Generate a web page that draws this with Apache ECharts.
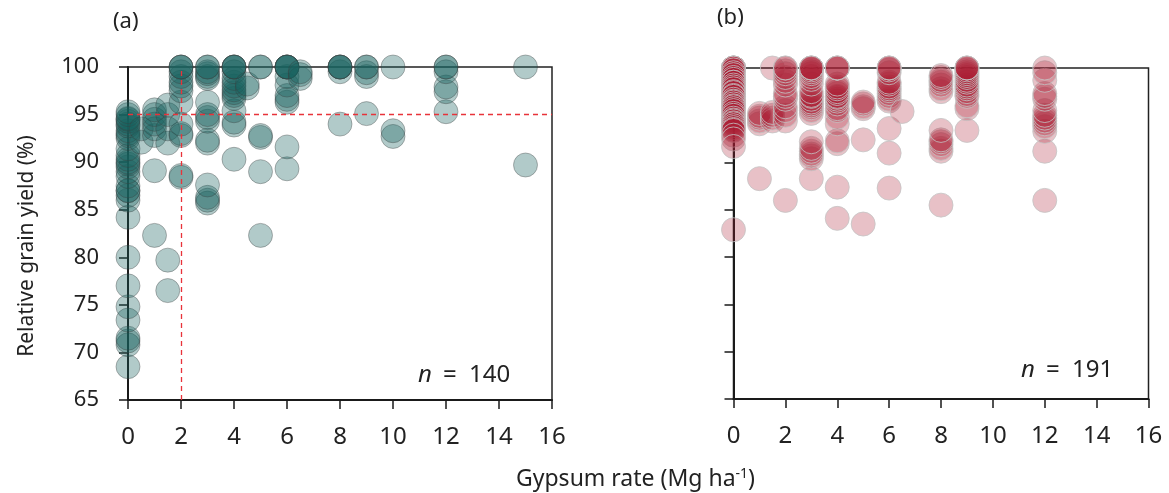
<!DOCTYPE html>
<html><head><meta charset="utf-8">
<script src="https://cdn.jsdelivr.net/npm/echarts@6/dist/echarts.min.js"></script>
<style>html,body{margin:0;padding:0;background:#fff}#c{width:1169px;height:493px}</style>
</head><body><div id="c"></div>
<script>
// Panel (a): gypsum rate (Mg/ha) and relative grain yield (%)
const aRate = [
 0,0,0,0,0,0,0,0,0,0,0,0,0,0,0,0,0,0,0,0,0,0,0,0,0,0,0,0,0,0,0,0,0,
 0.5,0.5,
 1,1,1,1,1,1,1,1,
 1.5,1.5,1.5,1.5,1.5,1.5,
 2,2,2,2,2,2,2,2,2,2,2,2,2,2,
 3,3,3,3,3,3,3,3,3,3,3,3,3,3,3,3,
 4,4,4,4,4,4,4,4,4,4,4,4,4,4,4,4,
 4.5,4.5,
 5,5,5,5,5,5,
 6,6,6,6,6,6,6,6,6,6,6,6,
 6.5,6.5,6.5,
 8,8,8,8,8,8,
 9,9,9,9,9,
 10,10,10,
 12,12,12,12,12,12,
 15,15
];
const aYield = [
 68.5,70.8,71.2,71.5,73.4,74.8,77.0,80.0,84.2,86.0,86.5,87.0,87.0,87.5,88.5,89.0,89.5,89.8,90.0,90.3,90.7,91.4,92.5,92.8,93.0,93.3,93.8,94.0,94.3,94.5,94.6,95.0,95.3,
 92.1,93.5,
 82.3,89.1,92.8,93.5,94.0,94.5,95.0,95.5,
 76.5,79.7,92.0,93.5,95.0,96.0,
 88.4,88.6,92.8,93.0,94.0,96.3,97.5,98.0,98.4,99.0,99.5,100,100,100,
 85.7,86.0,86.3,87.6,92.0,92.3,94.3,94.7,95.0,96.3,98.8,99.0,99.3,99.5,100,100,
 90.3,93.9,94.2,95.4,96.7,97.0,97.3,97.6,98.0,98.4,98.8,99.5,100,100,100,100,
 97.8,98.2,
 82.3,89.0,92.6,92.8,100,100,
 89.3,91.6,96.3,96.6,97.0,98.1,99.0,100,100,100,100,100,
 98.8,99.2,99.5,
 94.0,99.5,100,100,100,100,
 95.1,99.0,99.4,100,100,
 92.7,93.3,100,
 95.3,97.4,97.9,99.5,100,100,
 89.7,100
];
// Panel (b)
const bRate = [
 0,0,0,0,0,0,0,0,0,0,0,0,0,0,0,0,0,0,0,0,0,0,0,0,0,0,0,0,0,0,0,0,0,0,0,0,0,0,0,0,0,0,0,0,
 1,1,1,1,1,1,
 1.5,1.5,1.5,1.5,1.5,
 2,2,2,2,2,2,2,2,2,2,2,2,2,2,2,
 3,3,3,3,3,3,3,3,3,3,3,3,3,3,3,3,3,3,3,3,3,3,3,3,3,3,3,
 4,4,4,4,4,4,4,4,4,4,4,4,4,4,4,4,4,4,4,4,4,4,
 5,5,5,5,5,5,
 6,6,6,6,6,6,6,6,6,6,6,6,6,6,6,6,6,
 6.5,
 8,8,8,8,8,8,8,8,8,8,8,8,8,8,
 9,9,9,9,9,9,9,9,9,9,9,9,9,9,9,9,9,9,9,
 12,12,12,12,12,12,12,12,12,12,12,12,12,12,12
];
const bYield = [
 100,100,100,100,100,100,100,99.8,99.5,99.3,99.0,98.8,98.5,98.5,98.2,98.0,97.8,97.5,97.4,97.1,97.0,96.7,96.5,96.4,96.2,96.0,95.9,95.7,95.5,95.2,95.0,94.7,94.5,94.4,94.2,94.1,93.9,93.7,93.5,93.4,92.9,92.5,91.7,82.9,
 88.3,94.1,94.4,94.7,94.9,95.2,
 94.4,94.7,95.0,95.3,100,
 86.0,94.4,95.0,95.5,95.9,96.7,97.0,97.3,98.2,98.6,99.0,99.4,99.7,100,100,
 88.3,90.4,90.7,90.9,91.2,91.5,92.2,95.2,95.5,95.8,96.0,96.2,96.4,96.7,97.0,97.1,97.5,98.3,98.8,99.1,99.4,99.6,99.8,100,100,100,100,
 84.1,87.4,92.0,92.3,94.1,94.8,95.5,95.7,96.2,96.5,96.7,96.9,97.0,97.3,97.5,97.8,98.0,98.3,100,100,100,100,
 83.5,92.4,95.7,95.9,96.2,96.4,
 87.3,91.0,93.6,96.5,96.7,97.0,97.3,97.6,97.8,98.0,98.3,98.5,99.5,99.8,100,100,100,
 95.4,
 85.5,91.2,91.5,91.9,92.2,92.4,93.4,97.5,97.8,98.2,98.5,98.7,99.0,99.2,
 93.4,95.7,96.0,97.0,97.2,97.5,97.8,98.0,98.2,98.5,98.7,99.0,99.2,99.4,99.6,99.8,100,100,100,
 86.0,91.2,93.3,93.8,94.1,94.4,94.7,95.0,95.5,96.7,97.0,97.3,98.7,99.5,100
];
const xTicks = {min: 0, max: 16, interval: 2};
const yTicks = {min: 65, max: 100, interval: 5};

const FONT = 'Noto Sans';
const TXT = '#222';
function pts(xs, ys){ return xs.map((x,i)=>[x, ys[i]]); }

function xAxis(gi){
  return {type:'value', gridIndex:gi, min:xTicks.min, max:xTicks.max, interval:xTicks.interval,
    axisLine:{show:true, onZero:false, lineStyle:{color:'#1a1a1a', width:2}},
    axisTick:{show:true, inside:false, length:9, lineStyle:{color:'#1a1a1a', width:1.5}},
    axisLabel:{show:true, margin:25, fontFamily:FONT, fontSize:24, color:TXT},
    splitLine:{show:false}};
}
function yAxis(gi, labels){
  return {type:'value', gridIndex:gi, min:yTicks.min, max:yTicks.max, interval:yTicks.interval,
    axisLine:{show:true, onZero:false, lineStyle:{color:'#1a1a1a', width:2}},
    axisTick:{show:true, inside:false, length:9, lineStyle:{color:'#1a1a1a', width:1.5}},
    axisLabel:{show:labels, margin:29, fontFamily:FONT, fontSize:22, color:TXT},
    splitLine:{show:false}};
}
function nLabel(x, y, val){
  return [
    {type:'text', left:x, top:y, style:{text:'n', font:'italic 24px "Noto Sans"', fill:TXT}},
    {type:'text', left:x+25, top:y, style:{text:'=', font:'24px "Noto Sans"', fill:TXT}},
    {type:'text', left:x+51, top:y, style:{text:val, font:'24px "Noto Sans"', fill:TXT}}
  ];
}

const chart = echarts.init(document.getElementById('c'), null, {renderer:'canvas'});
chart.setOption({
  animation:false,
  backgroundColor:'#fff',
  grid:[
    {left:128, right:617, top:67, bottom:93, show:true, borderColor:'#222', borderWidth:1.5, backgroundColor:'transparent'},
    {left:733.5, right:20.5, top:68, bottom:94, show:true, borderColor:'#222', borderWidth:1.5, backgroundColor:'transparent'}
  ],
  xAxis:[xAxis(0), xAxis(1)],
  yAxis:[yAxis(0,true), yAxis(1,false)],
  series:[
    {type:'scatter', xAxisIndex:0, yAxisIndex:0, data:pts(aRate,aYield), symbolSize:24, clip:false,
     itemStyle:{color:'rgba(25,98,95,0.42)', borderColor:'rgba(60,60,60,0.45)', borderWidth:1},
     markLine:{silent:true, symbol:'none', label:{show:false},
       lineStyle:{color:'#e8333a', type:[5,4], width:1.3},
       data:[[{coord:[0,95]},{coord:[16,95]}],[{coord:[2,65]},{coord:[2,100]}]]},
     z:3},
    {type:'scatter', xAxisIndex:1, yAxisIndex:1, data:pts(bRate,bYield), symbolSize:24, clip:false,
     itemStyle:{color:'rgba(170,28,50,0.34)', borderColor:'#c4c4c4', borderWidth:1},
     z:3}
  ],
  graphic:[
    {type:'text', left:113, top:11, style:{text:'(a)', font:'22px "Noto Sans"', fill:TXT}},
    {type:'text', left:717, top:7, style:{text:'(b)', font:'22px "Noto Sans"', fill:TXT}},
    ...nLabel(418, 363, '140'),
    ...nLabel(1021, 358, '191'),
    {type:'text', x:27, y:246, rotation:Math.PI/2, style:{text:'Relative grain yield (%)', font:'21px "Noto Sans"', fill:TXT, align:'center', verticalAlign:'middle'}},
    {type:'text', left:516, top:467, style:{rich:{r:{fontSize:23, fontFamily:FONT, fill:TXT}, s:{fontSize:14, fontFamily:FONT, fill:TXT, verticalAlign:'top', padding:[0,0,11,0]}}, text:'{r|Gypsum rate (Mg ha}{s|-1}{r|)}'}}
  ]
});
</script></body></html>
